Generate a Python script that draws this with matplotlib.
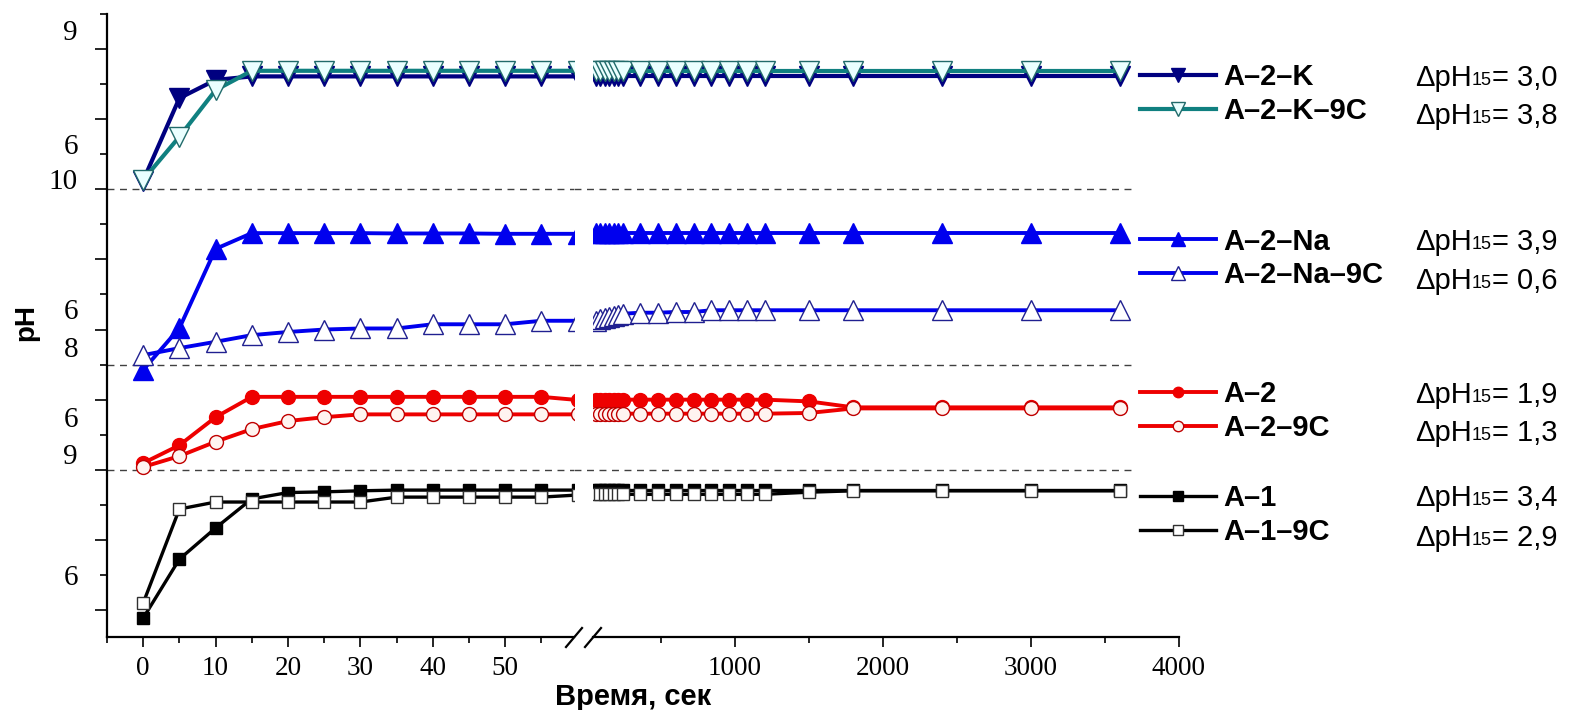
import matplotlib
matplotlib.use("Agg")
import matplotlib.pyplot as plt
from matplotlib.lines import Line2D

W, H = 1588, 710

# ---------------------------------------------------------------------------
# Data (y on the stacked pH scale: one unit = one y tick step)
# ---------------------------------------------------------------------------

t_left = [0, 5, 10, 15, 20, 25, 30, 35, 40, 45, 50, 55, 60]
t_right = [60, 90, 120, 150, 180, 210, 240, 360, 480, 600, 720, 840, 960,
           1080, 1200, 1500, 1800, 2400, 3000, 3600]

a2k_left = [12.25, 14.6, 15.12, 15.22, 15.22, 15.22, 15.22, 15.22, 15.22, 15.22, 15.22, 15.22, 15.22]
a2k_right = [15.22] * 20
a2k9_left = [12.27, 13.5, 14.83, 15.38, 15.38, 15.38, 15.38, 15.38, 15.38, 15.38, 15.38, 15.38, 15.38]
a2k9_right = [15.38] * 20

a2na_left = [6.85, 8.04, 10.3, 10.75, 10.75, 10.75, 10.75, 10.74, 10.74, 10.74, 10.73, 10.73, 10.73]
a2na_right = [10.74] * 20
a2na9_left = [7.27, 7.47, 7.65, 7.84, 7.93, 8.0, 8.03, 8.03, 8.15, 8.15, 8.15, 8.25, 8.25]
a2na9_right = [8.25, 8.3, 8.33, 8.36, 8.4, 8.42, 8.45, 8.48, 8.48, 8.5, 8.5, 8.55, 8.55,
               8.55, 8.55, 8.55, 8.55, 8.55, 8.55, 8.55]

a2_left = [4.19, 4.7, 5.5, 6.08, 6.08, 6.08, 6.08, 6.08, 6.08, 6.08, 6.08, 6.08, 5.99]
a2_right = [6.0] * 15 + [5.95, 5.78, 5.78, 5.78, 5.78]
a29_left = [4.08, 4.39, 4.8, 5.16, 5.39, 5.5, 5.58, 5.58, 5.58, 5.58, 5.58, 5.58, 5.58]
a29_right = [5.6] * 15 + [5.62, 5.75, 5.75, 5.75, 5.75]

a1_left = [-0.23, 1.45, 2.34, 3.17, 3.35, 3.37, 3.4, 3.42, 3.42, 3.42, 3.42, 3.42, 3.42]
a1_right = [3.42] * 20
a19_left = [0.2, 2.88, 3.08, 3.08, 3.08, 3.08, 3.08, 3.22, 3.22, 3.22, 3.22, 3.22, 3.28]
a19_right = [3.3] * 15 + [3.36, 3.4, 3.4, 3.4, 3.4]

names = ["A–2–K", "A–2–K–9C", "A–2–Na", "A–2–Na–9C", "A–2", "A–2–9C", "A–1", "A–1–9C"]
delta_ph = ["3,0", "3,8", "3,9", "0,6", "1,9", "1,3", "3,4", "2,9"]
series = [(a2k_left, a2k_right), (a2k9_left, a2k9_right),
          (a2na_left, a2na_right), (a2na9_left, a2na9_right),
          (a2_left, a2_right), (a29_left, a29_right),
          (a1_left, a1_right), (a19_left, a19_right)]

panel_bounds = [4, 7, 12]
ytick_text = ["9", "6", "10", "6", "8", "6", "9", "6"]
ytick_text_pos = [16.46, 13.2, 12.2, 8.5, 7.42, 5.42, 4.36, 0.91]

# ---------------------------------------------------------------------------
# Styles
# ---------------------------------------------------------------------------

STYLES = [
    dict(color="#000080", marker="v", mfc="#000080", mec="#000080", ms=14, lw=3.0),
    dict(color="#108080", marker="v", mfc="#eaffff", mec="#206a6a", ms=14, lw=3.0),
    dict(color="#0000ee", marker="^", mfc="#0000ee", mec="#0000ee", ms=14, lw=2.8),
    dict(color="#0000ee", marker="^", mfc="#ffffff", mec="#202090", ms=14, lw=2.8),
    dict(color="#ee0000", marker="o", mfc="#ee0000", mec="#ee0000", ms=10, lw=2.8),
    dict(color="#ee0000", marker="o", mfc="#fff4f0", mec="#c00000", ms=10, lw=2.8),
    dict(color="#000000", marker="s", mfc="#000000", mec="#000000", ms=9, lw=2.4),
    dict(color="#000000", marker="s", mfc="#ffffff", mec="#303030", ms=9, lw=2.4),
]

row_y = [75, 113, 239, 278, 392, 430, 495, 535]   # legend rows, px from top
SERIF = "Liberation Serif"
SANS = "Liberation Sans"


def fy(py):
    return 1 - py / H


fig = plt.figure(figsize=(W / 100, H / 100), dpi=100)
ax1 = fig.add_axes([107 / W, fy(637), (574 - 107) / W, (637 - 14) / H])
ax2 = fig.add_axes([593 / W, fy(637), (1179 - 593) / W, (637 - 14) / H])

for ax in (ax1, ax2):
    ax.set_ylim(-0.77, 17.0)
    ax.patch.set_alpha(0)
    for s in ("top", "right"):
        ax.spines[s].set_visible(False)
    for s in ("left", "bottom"):
        ax.spines[s].set_linewidth(1.6)
    ax.tick_params(which="major", direction="out", length=7.5, width=1.2, pad=6,
                   labelsize=19.5)
    ax.tick_params(which="minor", direction="out", length=4, width=1.2)

ax1.set_xlim(-5, 59.5)
ax2.set_xlim(40, 4000)
ax2.spines["left"].set_visible(False)
ax2.tick_params(axis="y", which="both", left=False, labelleft=False)

ax1.set_xticks([0, 10, 20, 30, 40, 50])
ax1.set_xticks([-5, 5, 15, 25, 35, 45, 55], minor=True)
ax2.set_xticks([1000, 2000, 3000, 4000])
ax2.set_xticks([500, 1500, 2500, 3500], minor=True)
for ax in (ax1, ax2):
    for lab in ax.get_xticklabels():
        lab.set_family(SERIF)

ax1.set_yticks(range(0, 17, 2))
ax1.set_yticks(range(1, 18, 2), minor=True)
ax1.tick_params(axis="y", which="major", length=8.5)
ax1.tick_params(axis="y", which="minor", length=5)
ax1.set_yticklabels([])

for txt, pos in zip(ytick_text, ytick_text_pos):
    ax1.text(-0.062, pos, txt, transform=ax1.get_yaxis_transform(), ha="right",
             va="center", family=SERIF, fontsize=21)

# panel separators
for b in panel_bounds:
    ax1.axhline(b, color="#404040", lw=1.0, ls=(0, (5, 4)), zorder=1)
    ax2.hlines(b, -90, 3700, color="#404040", lw=1.0, ls=(0, (5, 4)), zorder=1,
               clip_on=False)

handles = []
for (left, right), st in zip(series, STYLES):
    kw = dict(color=st["color"], marker=st["marker"], mfc=st["mfc"], mec=st["mec"],
              ms=st["ms"], lw=st["lw"], mew=1.0, zorder=3)
    h, = ax1.plot(t_left, left, **kw)
    ax2.plot(t_right, right, **kw)
    handles.append(h)

# legends, one per panel
for i in range(0, 8, 2):
    center = (row_y[i] + row_y[i + 1]) / 2
    fig.legend(handles[i:i + 2], names[i:i + 2], loc="center left",
               bbox_to_anchor=(1140 / W, fy(center)), frameon=False,
               borderpad=0, borderaxespad=0, handlelength=2.6, handletextpad=0.25,
               labelspacing=0.2, markerscale=0.75,
               prop=dict(family=SANS, weight="bold", size=21))

# ΔpH15 column: "ΔpH" + small "15" + "= value", chained on the text boxes
for y, d in zip(row_y, delta_ph):
    t1 = fig.text(1415 / W, fy(y + 11), "ΔpH", family=SANS, fontsize=21,
                  ha="left", va="baseline")
    t2 = plt.annotate("15", xy=(1, 0), xycoords=t1, xytext=(0, 2),
                      textcoords="offset points", ha="left", va="bottom",
                      family=SANS, fontsize=13, annotation_clip=False)
    plt.annotate("= " + d, xy=(1, 0), xycoords=t2, xytext=(0, -2),
                 textcoords="offset points", ha="left", va="bottom",
                 family=SANS, fontsize=21, annotation_clip=False)

# axis break marks
for x0, x1 in ((566, 582), (585, 601)):
    fig.add_artist(Line2D([x0 / W, x1 / W], [fy(647), fy(628)], color="black", lw=1.6))

fig.text(26 / W, fy(322), "pH", rotation=90, ha="center", va="center",
         family=SANS, weight="bold", fontsize=20)
fig.text(633 / W, fy(697), "Время, сек", ha="center", va="center",
         family=SANS, weight="bold", fontsize=21)

fig.savefig("out.png", dpi=100)
